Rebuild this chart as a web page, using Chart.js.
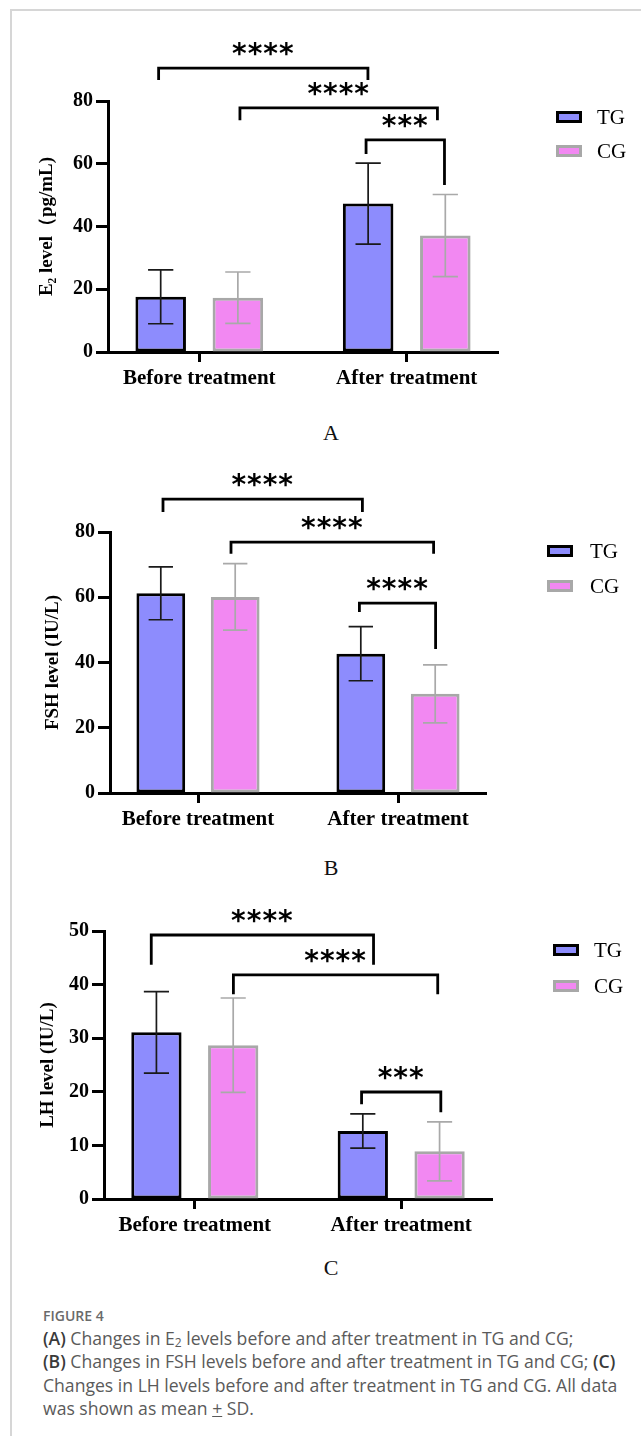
<!DOCTYPE html>
<html lang="en">
<head>
<meta charset="UTF-8">
<title>Figure 4</title>
<script src="https://cdn.jsdelivr.net/npm/chart.js"></script>
<style>
    body {
        margin: 0;
        background: #fff;
        width: 641px;
        height: 1436px;
        position: relative;
        overflow: hidden;
    }
    .frame {
        position: absolute;
        left: 10px;
        top: 9px;
        width: 700px;
        height: 1500px;
        border-top: 2px solid #d6d6d6;
        border-left: 2px solid #d6d6d6;
    }
    .panel {
        position: absolute;
        left: 0;
    }
    .letter {
        position: absolute;
        left: 290px;
        width: 82px;
        text-align: center;
        font-family: 'Liberation Serif', serif;
        font-size: 22px;
        line-height: 26px;
        color: #111;
    }
    .caption {
        position: absolute;
        left: 43px;
        top: 1305px;
        font-family: 'Open Sans', sans-serif;
        color: #5a5a5a;
        white-space: nowrap;
    }
    .caption .fig {
        font-size: 14px;
        font-weight: 600;
        color: #6a6a6a;
        line-height: 22px;
    }
    .caption p {
        margin: 0;
        font-size: 17.6px;
        line-height: 23.3px;
    }
    .caption b { font-weight: 600; color: #3a3a3a; }
    .caption sub { font-size: 12px; vertical-align: -2px; line-height: 0; }
</style>
</head>
<body>
<div class="frame"></div>

<div class="panel" style="top:0px"><canvas id="chartA" width="641" height="400"></canvas></div>
<div class="letter" style="top:420px">A</div>

<div class="panel" style="top:460px"><canvas id="chartB" width="641" height="380"></canvas></div>
<div class="letter" style="top:855px">B</div>

<div class="panel" style="top:895px"><canvas id="chartC" width="641" height="350"></canvas></div>
<div class="letter" style="top:1255px">C</div>

<div class="caption">
    <div class="fig">FIGURE 4</div>
    <p><b>(A)</b> Changes in E<sub>2</sub> levels before and after treatment in TG and CG;<br>
    <b>(B)</b> Changes in FSH levels before and after treatment in TG and CG; <b>(C)</b><br>
    Changes in LH levels before and after treatment in TG and CG. All data<br>
    was shown as mean <u>+</u> SD.</p>
</div>

<script>
    // categories and groups
    const categories = ['Before treatment', 'After treatment'];
    const groups = ['TG', 'CG'];

    // E2 (pg/mL), mean and SD
    const e2TG = [17.6, 47.3];
    const e2TGsd = [8.6, 12.9];
    const e2CG = [17.3, 37.1];
    const e2CGsd = [8.2, 13.1];

    // FSH (IU/L)
    const fshTG = [61.2, 42.7];
    const fshTGsd = [8.1, 8.3];
    const fshCG = [60.1, 30.4];
    const fshCGsd = [10.2, 8.9];

    // LH (IU/L)
    const lhTG = [31.1, 12.7];
    const lhTGsd = [7.6, 3.2];
    const lhCG = [28.7, 8.9];
    const lhCGsd = [8.8, 5.5];

    // y axis ranges
    const yMaxA = 80, yStepA = 20;
    const yMaxB = 80, yStepB = 20;
    const yMaxC = 50, yStepC = 10;

    // significance marks
    const sigA = ['****', '****', '***'];
    const sigB = ['****', '****', '****'];
    const sigC = ['****', '****', '***'];

    const tgFill = '#8d8cfd', tgLine = '#000000', tgErr = '#1a1a1a';
    const cgFill = '#f288f2', cgLine = '#a8a8a8', cgErr = '#a9a9a9';

    // brackets in axis units: x1, x2 (category index), level, left end, right end
    const bracketsA = [
        { x1: -0.196, x2: 0.813, y: 90.5, d1: 86.7, d2: 86.7 },
        { x1: 0.196, x2: 1.148, y: 77.8, d1: 73.9, d2: 73.9 },
        { x1: 0.804, x2: 1.182, y: 67.6, d1: 63.1, d2: 53.2 }
    ];
    const bracketsB = [
        { x1: -0.175, x2: 0.822, y: 90.1, d1: 86.1, d2: 86.1 },
        { x1: 0.165, x2: 1.178, y: 76.9, d1: 73.3, d2: 73.3 },
        { x1: 0.807, x2: 1.188, y: 58.2, d1: 55.5, d2: 44.1 }
    ];
    const bracketsC = [
        { x1: -0.211, x2: 0.866, y: 49.25, d1: 43.7, d2: 43.7 },
        { x1: 0.187, x2: 1.177, y: 41.8, d1: 38.2, d2: 38.2 },
        { x1: 0.808, x2: 1.192, y: 19.96, d1: 17.7, d2: 16.2 }
    ];

    function extras(p) {
        return {
            id: 'extras',
            afterDatasetsDraw(chart) {
                const ctx = chart.ctx;
                const ys = chart.scales.y;
                chart.data.datasets.forEach((ds, i) => {
                    chart.getDatasetMeta(i).data.forEach((bar, j) => {
                        const m = ds.data[j].y, s = ds.sd[j];
                        const t = ys.getPixelForValue(m + s);
                        const b = ys.getPixelForValue(m - s);
                        const half = bar.width * 0.25;
                        ctx.save();
                        ctx.strokeStyle = ds.errColor;
                        ctx.lineWidth = 1.7;
                        ctx.beginPath();
                        ctx.moveTo(bar.x, t); ctx.lineTo(bar.x, b);
                        ctx.moveTo(bar.x - half, t); ctx.lineTo(bar.x + half, t);
                        ctx.moveTo(bar.x - half, b); ctx.lineTo(bar.x + half, b);
                        ctx.stroke();
                        ctx.restore();
                    });
                });
            },
            afterDraw(chart) {
                const ctx = chart.ctx;
                const xs = chart.scales.x, ys = chart.scales.y;
                ctx.save();
                p.brackets.forEach((br, k) => {
                    const x1 = xs.getPixelForValue(br.x1), x2 = xs.getPixelForValue(br.x2);
                    const yl = ys.getPixelForValue(br.y);
                    ctx.strokeStyle = '#000';
                    ctx.lineWidth = 2.8;
                    ctx.lineJoin = 'miter';
                    ctx.beginPath();
                    ctx.moveTo(x1, ys.getPixelForValue(br.d1));
                    ctx.lineTo(x1, yl);
                    ctx.lineTo(x2, yl);
                    ctx.lineTo(x2, ys.getPixelForValue(br.d2));
                    ctx.stroke();

                    const label = p.sig[k];
                    ctx.font = 'bold 28px "DejaVu Sans"';
                    ctx.letterSpacing = '1px';
                    ctx.textAlign = 'center';
                    ctx.textBaseline = 'alphabetic';
                    ctx.fillStyle = '#000';
                    const mt = ctx.measureText(label);
                    const cy = yl - 19;
                    ctx.fillText(label, (x1 + x2) / 2, cy + (mt.actualBoundingBoxAscent - mt.actualBoundingBoxDescent) / 2);
                    ctx.letterSpacing = '0px';
                });

                // legend
                chart.data.datasets.forEach((ds, i) => {
                    const cy = chart.chartArea.top + p.legTop + i * p.legGap;
                    ctx.fillStyle = ds.backgroundColor;
                    ctx.fillRect(p.legX, cy - 6, 26, 12);
                    ctx.strokeStyle = ds.borderColor;
                    ctx.lineWidth = 3;
                    ctx.strokeRect(p.legX + 1.5, cy - 4.5, 23, 9);
                    ctx.fillStyle = '#000';
                    ctx.font = '21px "Liberation Serif"';
                    ctx.textAlign = 'left';
                    ctx.textBaseline = 'middle';
                    ctx.fillText(ds.label, p.legTextX, cy + 1);
                });
                ctx.restore();
            }
        };
    }

    function makeChart(id, p) {
        const tgData = categories.map((c, i) => ({ x: i, y: p.tg[i] }));
        const cgData = categories.map((c, i) => ({ x: i, y: p.cg[i] }));
        return new Chart(document.getElementById(id), {
            type: 'bar',
            data: {
                datasets: [
                    { label: groups[0], data: tgData, sd: p.tgSd, backgroundColor: tgFill, borderColor: tgLine, errColor: tgErr, borderWidth: 3 },
                    { label: groups[1], data: cgData, sd: p.cgSd, backgroundColor: cgFill, borderColor: cgLine, errColor: cgErr, borderWidth: 3 }
                ]
            },
            options: {
                responsive: false,
                animation: false,
                devicePixelRatio: 1,
                categoryPercentage: 0.744,
                barPercentage: 0.655,
                borderSkipped: false,
                layout: { padding: p.pad },
                plugins: { legend: { display: false }, tooltip: { enabled: false } },
                scales: {
                    x: {
                        type: 'linear',
                        min: -0.44,
                        max: 1.44,
                        offset: false,
                        z: 1,
                        afterBuildTicks(scale) {
                            scale.ticks = categories.map((c, i) => ({ value: i }));
                        },
                        afterFit(scale) { scale.height = 40; },
                        border: { display: true, color: '#000', width: 3 },
                        grid: { drawOnChartArea: false, offset: false, drawTicks: true, tickLength: 10, tickWidth: 3, tickColor: '#000' },
                        ticks: {
                            color: '#000',
                            padding: 4,
                            maxRotation: 0,
                            autoSkip: false,
                            font: { family: 'Liberation Serif', weight: 'bold', size: 21 },
                            callback: (v) => categories[v]
                        }
                    },
                    y: {
                        min: 0,
                        max: p.yMax,
                        z: 1,
                        afterFit(scale) { scale.width = p.yWidth; },
                        border: { display: true, color: '#000', width: 3 },
                        grid: { drawOnChartArea: false, drawTicks: true, tickLength: 12, tickWidth: 3, tickColor: '#000' },
                        ticks: {
                            stepSize: p.yStep,
                            color: '#000',
                            padding: 3,
                            font: { family: 'Liberation Serif', weight: 'bold', size: 20 }
                        },
                        title: {
                            display: true,
                            text: p.title,
                            color: '#000',
                            padding: 0,
                            font: { family: 'Liberation Serif', weight: 'bold', size: 19 }
                        }
                    }
                }
            },
            plugins: [extras(p)]
        });
    }

    makeChart('chartA', {
        tg: e2TG, tgSd: e2TGsd, cg: e2CG, cgSd: e2CGsd,
        yMax: yMaxA, yStep: yStepA, title: 'E₂ level（pg/mL)',
        sig: sigA, brackets: bracketsA,
        pad: { left: 35.6, right: 143, top: 101, bottom: 8 }, yWidth: 72.4,
        legX: 556, legTextX: 597, legTop: 16, legGap: 34
    });

    makeChart('chartB', {
        tg: fshTG, tgSd: fshTGsd, cg: fshCG, cgSd: fshCGsd,
        yMax: yMaxB, yStep: yStepB, title: 'FSH level (IU/L)',
        sig: sigB, brackets: bracketsB,
        pad: { left: 41.6, right: 155, top: 72, bottom: 7 }, yWidth: 68.4,
        legX: 547, legTextX: 590, legTop: 19, legGap: 35
    });

    makeChart('chartC', {
        tg: lhTG, tgSd: lhTGsd, cg: lhCG, cgSd: lhCGsd,
        yMax: yMaxC, yStep: yStepC, title: 'LH level (IU/L)',
        sig: sigC, brackets: bracketsC,
        pad: { left: 36.6, right: 149, top: 36, bottom: 6 }, yWidth: 67.4,
        legX: 553, legTextX: 594, legTop: 19, legGap: 36
    });
</script>
</body>
</html>
